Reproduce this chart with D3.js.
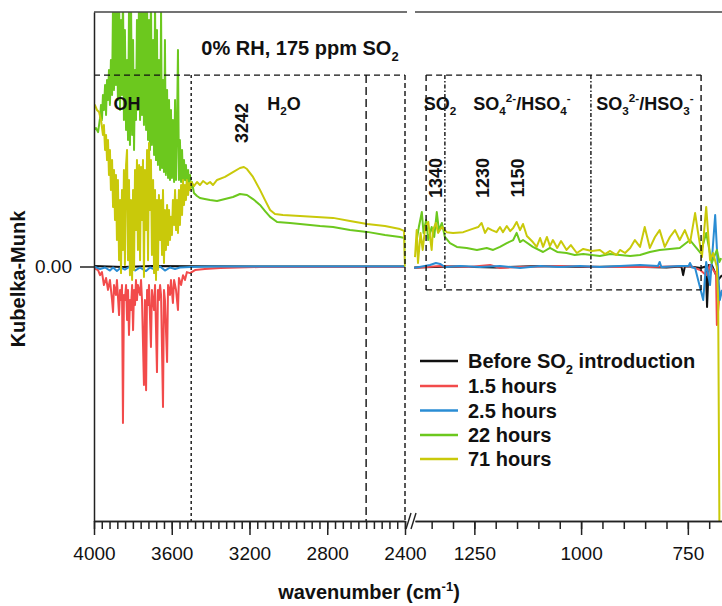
<!DOCTYPE html>
<html><head><meta charset="utf-8">
<script src="https://cdn.jsdelivr.net/npm/d3@7"></script>
<style>
html,body{margin:0;padding:0;background:#fff;}
text{font-family:"Liberation Sans",Arial,Helvetica,sans-serif;white-space:pre;}
</style></head>
<body><svg id="chart" width="722" height="606"></svg>
<script>
// ---------- data (wavenumber cm-1, Kubelka-Munk) ----------
const seriesNames = ["Before SO2 introduction","1.5 hours","2.5 hours","22 hours","71 hours"];
const seriesColors = ["#111111","#f24b4b","#2a8dd4","#6cc81e","#c9c90a"];

const leftMajorTicks = [4000,3600,3200,2800,2400];
const rightMajorTicks = [1250,1000,750];
const yTickValues = [0];

const blackLeft = [[4000,0.002],[3850,-0.002],[3700,0.002],[3500,0.001],[3000,0],[2400,0]];
const blackRight = [[1391,-0.004],[1300,0],[1200,-0.004],[1100,0.002],[1000,-0.002],[900,0],[800,-0.004],[765,0],[761,-0.034],[757,0],[745,0],[720,-0.006],[708,0],[705,-0.159],[701,0.006],[694,0.006],[679,-0.053],[670,-0.034]];

const redLeft = [[4000,-0.006],[3979,-0.014],[3969,-0.034],[3959,-0.022],[3949,-0.073],[3938,-0.045],[3928,-0.092],[3918,-0.053],[3907,-0.132],[3902,-0.179],[3897,-0.073],[3887,-0.112],[3882,-0.053],[3871,-0.191],[3866,-0.092],[3861,-0.132],[3856,-0.073],[3851,-0.615],[3846,-0.112],[3841,-0.132],[3835,-0.073],[3830,-0.210],[3825,-0.092],[3820,-0.269],[3815,-0.132],[3810,-0.171],[3804,-0.073],[3799,-0.250],[3794,-0.092],[3789,-0.151],[3784,-0.053],[3779,-0.132],[3774,-0.073],[3763,-0.112],[3758,-0.053],[3753,-0.132],[3743,-0.466],[3738,-0.132],[3732,-0.486],[3727,-0.092],[3722,-0.151],[3717,-0.073],[3707,-0.316],[3702,-0.092],[3691,-0.171],[3686,-0.073],[3676,-0.415],[3671,-0.092],[3666,-0.132],[3660,-0.073],[3655,-0.112],[3645,-0.552],[3640,-0.092],[3635,-0.132],[3624,-0.375],[3619,-0.073],[3609,-0.112],[3604,-0.053],[3594,-0.143],[3588,-0.053],[3578,-0.092],[3568,-0.171],[3563,-0.045],[3552,-0.073],[3542,-0.034],[3532,-0.053],[3522,-0.022],[3506,-0.026],[3480,-0.014],[3430,-0.010],[3350,-0.006],[3150,-0.002],[2400,-0.002]];
const redRight = [[1391,-0.006],[1330,0.002],[1263,-0.002],[1213,0.006],[1190,-0.006],[1143,-0.002],[1050,0.002],[956,-0.002],[839,-0.002],[745,0.002],[721,-0.014],[707,-0.034],[698,0.006],[684,-0.030],[682,-0.230],[677,-0.132],[670,-0.092]];

const blueLeft = [[4000,0],[3969,-0.010],[3943,-0.004],[3918,-0.016],[3902,-0.004],[3882,-0.018],[3861,-0.004],[3841,-0.012],[3815,0],[3789,-0.016],[3763,-0.004],[3732,-0.018],[3712,-0.004],[3686,-0.012],[3660,0],[3635,-0.016],[3609,-0.004],[3583,-0.010],[3558,-0.004],[3506,-0.002],[3400,0],[3000,0],[2400,0]];
const blueRight = [[1391,-0.006],[1354,0.006],[1340,0.014],[1330,0.010],[1319,-0.002],[1284,0.002],[1237,-0.002],[1190,0.002],[1143,-0.006],[1096,0.002],[1050,-0.002],[1003,0.002],[956,-0.002],[909,0.002],[862,0.006],[820,0.002],[816,0.018],[812,-0.002],[769,0.002],[748,0.002],[745,0.014],[740,-0.004],[733,-0.006],[714,-0.132],[707,0.018],[698,-0.073],[686,0.202],[679,-0.026],[675,-0.132],[670,-0.092]];

const greenLeft = [[4000,0.536],[3990,0.544],[3979,0.528],[3969,0.583],[3964,0.635],[3959,0.576],[3954,0.674],[3949,0.615],[3943,0.713],[3938,0.595],[3933,0.733],[3928,0.654],[3923,0.772],[3918,0.635],[3913,0.811],[3907,0.674],[3902,1.047],[3897,0.694],[3892,1.086],[3887,0.713],[3882,1.047],[3877,0.654],[3871,1.086],[3866,0.615],[3861,0.969],[3856,0.674],[3851,1.086],[3846,0.576],[3841,0.929],[3835,0.536],[3830,0.811],[3825,0.497],[3820,1.008],[3815,0.477],[3810,1.086],[3804,0.517],[3799,0.890],[3794,0.458],[3789,0.772],[3784,0.576],[3779,0.969],[3774,0.615],[3768,1.086],[3763,0.576],[3758,1.047],[3753,0.595],[3748,1.086],[3743,0.556],[3738,1.086],[3732,0.536],[3727,1.047],[3722,0.497],[3717,0.969],[3712,0.458],[3707,1.086],[3702,0.477],[3696,0.890],[3691,0.438],[3686,1.047],[3681,0.418],[3676,0.929],[3671,0.399],[3666,0.811],[3660,0.379],[3655,1.008],[3650,0.387],[3645,0.733],[3640,0.371],[3635,0.890],[3630,0.360],[3624,0.694],[3619,0.348],[3614,0.654],[3609,0.340],[3604,0.615],[3599,0.348],[3594,0.576],[3588,0.332],[3583,0.654],[3578,0.340],[3573,0.536],[3568,0.851],[3563,0.340],[3558,0.497],[3552,0.332],[3547,0.458],[3542,0.328],[3537,0.418],[3532,0.340],[3527,0.399],[3522,0.316],[3516,0.379],[3511,0.320],[3506,0.360],[3501,0.309],[3496,0.332],[3486,0.289],[3470,0.277],[3455,0.269],[3430,0.265],[3403,0.261],[3367,0.257],[3326,0.265],[3285,0.273],[3249,0.285],[3213,0.281],[3182,0.265],[3146,0.242],[3120,0.218],[3094,0.195],[3058,0.175],[2992,0.171],[2940,0.167],[2837,0.159],[2770,0.155],[2683,0.143],[2595,0.136],[2503,0.124],[2426,0.116],[2402,0.112],[2400,0]];
const greenRight = [[1385,0.104],[1380,0.155],[1373,0.214],[1369,0.132],[1363,0.183],[1358,0.104],[1350,0.155],[1344,0.116],[1338,0.214],[1333,0.143],[1326,0.171],[1319,0.116],[1307,0.092],[1291,0.077],[1268,0.073],[1244,0.065],[1221,0.073],[1206,0.065],[1190,0.077],[1174,0.092],[1159,0.104],[1151,0.132],[1143,0.096],[1136,0.104],[1113,0.077],[1089,0.057],[1073,0.073],[1056,0.057],[1034,0.053],[1015,0.045],[995,0.049],[956,0.041],[932,0.049],[909,0.045],[885,0.041],[862,0.045],[839,0.057],[816,0.065],[792,0.069],[769,0.073],[745,0.104],[720,0.053],[707,0.132],[694,0.014],[682,0.065],[676,0.018],[672,0.033]];

const yellowLeft = [[4000,0.627],[3995,0.634],[3985,0.615],[3974,0.607],[3964,0.576],[3954,0.517],[3949,0.556],[3943,0.458],[3938,0.517],[3933,0.418],[3928,0.497],[3923,0.360],[3918,0.458],[3913,0.301],[3907,0.418],[3902,0.234],[3897,0.379],[3892,0.183],[3887,0.360],[3882,0.104],[3877,0.340],[3871,0.025],[3866,0.261],[3861,-0.026],[3856,0.301],[3851,0.065],[3846,0.379],[3841,0.006],[3835,0.399],[3830,0.458],[3825,0.025],[3820,0.340],[3815,-0.034],[3810,0.261],[3804,-0.053],[3799,0.301],[3794,-0.014],[3789,0.379],[3784,0.143],[3779,0.418],[3774,0.065],[3768,0.399],[3763,0.025],[3758,0.391],[3753,0.183],[3748,0.418],[3743,-0.041],[3738,0.379],[3732,0.143],[3727,0.458],[3722,0.025],[3717,0.485],[3712,0.222],[3707,0.418],[3702,0.045],[3696,0.340],[3691,-0.026],[3686,0.301],[3681,-0.053],[3676,0.261],[3671,-0.014],[3666,0.281],[3660,0.104],[3655,0.261],[3650,0.045],[3645,0.301],[3640,0.014],[3635,0.222],[3630,0.065],[3624,0.242],[3619,0.084],[3614,0.222],[3609,0.104],[3604,0.195],[3599,0.124],[3594,0.261],[3588,0.163],[3583,0.301],[3578,0.143],[3573,0.261],[3568,0.132],[3563,0.301],[3558,0.163],[3552,0.320],[3547,0.202],[3542,0.340],[3537,0.242],[3532,0.320],[3527,0.261],[3522,0.340],[3516,0.281],[3511,0.328],[3506,0.301],[3501,0.332],[3496,0.328],[3486,0.316],[3470,0.332],[3455,0.320],[3439,0.336],[3419,0.324],[3403,0.332],[3388,0.320],[3367,0.340],[3326,0.352],[3285,0.371],[3249,0.387],[3229,0.391],[3213,0.383],[3182,0.352],[3146,0.301],[3120,0.261],[3094,0.222],[3069,0.206],[3028,0.202],[2940,0.198],[2770,0.191],[2683,0.179],[2595,0.167],[2503,0.159],[2426,0.147],[2405,0.140],[2400,0]];
const yellowRight = [[1389,0.037],[1385,0.143],[1382,0.014],[1376,0.132],[1371,0.065],[1365,0.155],[1358,0.175],[1350,0.065],[1347,0.143],[1340,0.171],[1335,0.132],[1326,0.155],[1315,0.135],[1300,0.132],[1276,0.135],[1256,0.147],[1241,0.155],[1233,0.171],[1225,0.132],[1218,0.151],[1209,0.143],[1198,0.135],[1190,0.155],[1183,0.135],[1174,0.159],[1166,0.139],[1159,0.151],[1151,0.175],[1143,0.143],[1136,0.167],[1127,0.120],[1113,0.096],[1104,0.077],[1096,0.112],[1089,0.077],[1080,0.116],[1073,0.080],[1066,0.104],[1056,0.073],[1047,0.100],[1034,0.065],[1024,0.084],[1010,0.053],[995,0.069],[975,0.061],[956,0.065],[944,0.049],[932,0.061],[917,0.045],[909,0.065],[897,0.053],[885,0.073],[874,0.104],[862,0.077],[851,0.155],[839,0.073],[827,0.116],[816,0.143],[804,0.077],[792,0.116],[780,0.143],[769,0.104],[757,0.143],[745,0.092],[733,0.210],[727,0.143],[717,0.037],[707,0.234],[698,0.025],[691,0.053],[682,-0.002],[679,-0.132],[676,-1.035],[672,-1.075]];

// region markers (wavenumbers)
const leftDividers = [3500, 2600, 2400];
const rightBoxEdges = [1363, 719];
const rightDividers = [1319, 977];
const peakLabels = [["3242",3242,"L"],["1340",1340,"R"],["1230",1230,"R"],["1150",1150,"R"]];

// ---------- drawing ----------
const svg = d3.select("#chart");
const FF = '"Liberation Sans",Arial,Helvetica,sans-serif';
const xL = d3.scaleLinear().domain([4000,2400]).range([94,405]);
const xR = d3.scaleLinear().domain([1389,670]).range([415,722]);
const y = d3.scaleLinear().domain([-1,1]).range([521,12]);
const yTop = 12, yBot = 521;

const defs = svg.append("defs");
defs.append("clipPath").attr("id","cL").append("rect").attr("x",94).attr("y",yTop).attr("width",311.5).attr("height",yBot-yTop);
defs.append("clipPath").attr("id","cR").append("rect").attr("x",406).attr("y",yTop).attr("width",320).attr("height",yBot-yTop);

const lineL = d3.line().x(d=>xL(d[0])).y(d=>y(d[1]));
const lineR = d3.line().x(d=>xR(d[0])).y(d=>y(d[1]));
const leftSets = [blackLeft, redLeft, blueLeft, greenLeft, yellowLeft];
const rightSets = [blackRight, redRight, blueRight, greenRight, yellowRight];

const gL = svg.append("g").attr("clip-path","url(#cL)");
const gR = svg.append("g").attr("clip-path","url(#cR)");
leftSets.forEach((s,i)=>gL.append("path").attr("d",lineL(s)).attr("fill","none").attr("stroke",seriesColors[i]).attr("stroke-width",2).attr("stroke-linejoin","round"));
rightSets.forEach((s,i)=>gR.append("path").attr("d",lineR(s)).attr("fill","none").attr("stroke",seriesColors[i]).attr("stroke-width",2).attr("stroke-linejoin","round"));

// dashed region boxes
const boxTopVal = 0.752, rightBoxBottomVal = -0.092;
const dash = (x1,y1,x2,y2,da)=>svg.append("line").attr("x1",x1).attr("y1",y1).attr("x2",x2).attr("y2",y2)
  .attr("stroke","#111").attr("stroke-width",1.4).attr("stroke-dasharray",da);
dash(xL(4000),y(boxTopVal),xL(2400),y(boxTopVal),"6,4");
dash(xL(leftDividers[0]),y(boxTopVal),xL(leftDividers[0]),yBot,"3,3");
dash(xL(leftDividers[1]),y(boxTopVal),xL(leftDividers[1]),yBot,"8,4");
dash(xL(leftDividers[2]),y(boxTopVal),xL(leftDividers[2]),yBot,"5,3");
const bx0 = xR(rightBoxEdges[0]), bx1 = xR(rightBoxEdges[1]);
dash(bx0,y(boxTopVal),bx1,y(boxTopVal),"6,4");
dash(bx0,y(rightBoxBottomVal),bx1,y(rightBoxBottomVal),"6,4");
dash(bx0,y(boxTopVal),bx0,y(rightBoxBottomVal),"6,4");
dash(bx1,y(boxTopVal),bx1,y(rightBoxBottomVal),"6,4");
rightDividers.forEach(w=>dash(xR(w),y(boxTopVal),xR(w),y(rightBoxBottomVal),"4,2,1.5,2"));

// frame / axes
const axisColor = "#222";
svg.append("line").attr("x1",94).attr("x2",407).attr("y1",yTop).attr("y2",yTop).attr("stroke","#444").attr("stroke-width",1.6);
svg.append("line").attr("x1",415).attr("x2",722).attr("y1",yTop).attr("y2",yTop).attr("stroke","#444").attr("stroke-width",1.6);

function styleAxis(g){
  g.selectAll("path,line").attr("stroke",axisColor).attr("stroke-width",1.5);
  g.selectAll("text").attr("font-family",FF).attr("font-size",19).attr("fill","#111");
}
const gxL = svg.append("g").attr("transform",`translate(0,${yBot})`)
  .call(d3.axisBottom(xL).tickValues(leftMajorTicks).tickSize(14).tickSizeOuter(0).tickPadding(12).tickFormat(d3.format("d")));
styleAxis(gxL);
const gxLm = svg.append("g").attr("transform",`translate(0,${yBot})`)
  .call(d3.axisBottom(xL).tickValues(d3.range(4000,2399,-40)).tickSize(8).tickSizeOuter(0).tickFormat(""));
styleAxis(gxLm);
const gxR = svg.append("g").attr("transform",`translate(0,${yBot})`)
  .call(d3.axisBottom(xR).tickValues(rightMajorTicks).tickSize(14).tickSizeOuter(0).tickPadding(12).tickFormat(d3.format("d")));
styleAxis(gxR);
const gxRm = svg.append("g").attr("transform",`translate(0,${yBot})`)
  .call(d3.axisBottom(xR).tickValues(d3.range(1350,669,-50)).tickSize(8).tickSizeOuter(0).tickFormat(""));
styleAxis(gxRm);
const gy = svg.append("g").attr("transform","translate(94,0)")
  .call(d3.axisLeft(y).tickValues(yTickValues).tickSize(14).tickSizeOuter(0).tickPadding(8).tickFormat(d3.format(".2f")));
styleAxis(gy);
// axis break marks
[[406,529,411,513],[411,529,416,513]].forEach(p=>svg.append("line").attr("x1",p[0]).attr("y1",p[1]).attr("x2",p[2]).attr("y2",p[3]).attr("stroke",axisColor).attr("stroke-width",1.4));

// rich text helper
function rich(x,yy,parts,fs,opts={}){
  const t = svg.append("text").attr("x",x).attr("y",yy).attr("font-family",FF).attr("font-weight","bold")
    .attr("font-size",fs).attr("fill","#111").attr("text-anchor",opts.anchor||"middle");
  if(opts.rotate) t.attr("transform",`rotate(-90,${x},${yy})`);
  let cur = 0;
  parts.forEach(([s,k])=>{
    const target = k==="sub"? fs*0.28 : k==="sup"? -fs*0.42 : 0;
    t.append("tspan").attr("dy",target-cur).attr("font-size",k? fs*0.65: fs).text(s);
    cur = target;
  });
  return t;
}

rich(300,55,[["0% RH, 175 ppm SO",""],["2","sub"]],20);
rich(127,110,[["OH",""]],18);
rich(284,110,[["H",""],["2","sub"],["O",""]],18);
rich(440,110,[["SO",""],["2","sub"]],18);
rich(522,110,[["SO",""],["4","sub"],["2-","sup"],["/HSO",""],["4","sub"],["-","sup"]],18);
rich(645,110,[["SO",""],["3","sub"],["2-","sup"],["/HSO",""],["3","sub"],["-","sup"]],18);
peakLabels.forEach(([lab,w,side])=>{
  const px = side==="L"? xL(w): xR(w);
  rich(px+6.5, 123 + (side==="L"?0:55), [[lab,""]],18,{rotate:true});
});

// axis titles
rich(25,279,[["Kubelka-Munk",""]],20,{rotate:true});
rich(369,599,[["wavenumber (cm",""],["-1","sup"],[")",""]],20);

// legend
const legendRows = [361,386,410.5,435,459];
seriesNames.forEach((n,i)=>{
  svg.append("line").attr("x1",420).attr("x2",458).attr("y1",legendRows[i]).attr("y2",legendRows[i])
    .attr("stroke",seriesColors[i]).attr("stroke-width",2.5);
  const parts = i===0? [["Before SO",""],["2","sub"],[" introduction",""]] : [[n,""]];
  rich(468,legendRows[i]+7,parts,20,{anchor:"start"});
});
</script></body></html>
